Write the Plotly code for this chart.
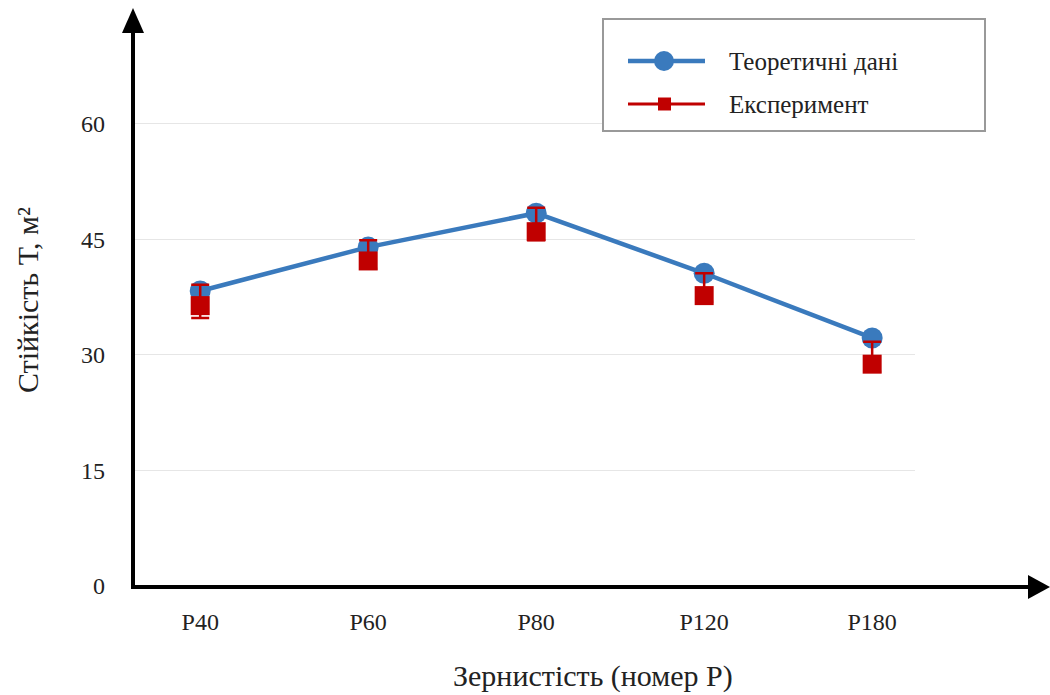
import plotly.graph_objects as go

categories = ["P40", "P60", "P80", "P120", "P180"]
theory = [38.3, 44.0, 48.4, 40.6, 32.2]
experiment = [36.4, 42.2, 46.0, 37.7, 28.8]
err_plus = [2.7, 2.7, 3.1, 2.9, 2.9]
err_minus = [1.6, 1.0, 1.1, 0.8, 1.0]
y_ticks = [0, 15, 30, 45, 60]
series_names = ["Теоретичні дані", "Експеримент"]

BLUE = "#3a7abd"
RED = "#c00000"
FONT = "Liberation Serif"
TXT = "#222222"

W, H = 1050, 695
L, R, T, B = 133, 915, 16, 586  # plot area in pixels


def px(x):
    return (x - L) / (R - L)


def py(y):
    return (B - y) / (B - T)


fig = go.Figure()
fig.add_trace(go.Scatter(
    x=categories, y=theory, mode="lines+markers", name=series_names[0],
    line=dict(color=BLUE, width=4.5),
    marker=dict(symbol="circle", size=21, color=BLUE),
    showlegend=False,
))
fig.add_trace(go.Scatter(
    x=categories, y=experiment, mode="markers", name=series_names[1],
    marker=dict(symbol="square", size=19, color=RED),
    error_y=dict(type="data", symmetric=False, array=err_plus, arrayminus=err_minus,
                 color=RED, thickness=2.5, width=9),
    showlegend=False,
))

shapes = []
# axes with arrows
shapes.append(dict(type="line", xref="paper", yref="paper", x0=px(133), x1=px(133), y0=py(589), y1=py(28),
                   line=dict(color="black", width=4)))
shapes.append(dict(type="path", xref="paper", yref="paper",
                   path=f"M{px(133)},{py(8)} L{px(122)},{py(33)} L{px(144)},{py(33)} Z",
                   fillcolor="black", line=dict(color="black", width=0)))
shapes.append(dict(type="line", xref="paper", yref="paper", x0=px(131), x1=px(1032), y0=py(587), y1=py(587),
                   line=dict(color="black", width=4)))
shapes.append(dict(type="path", xref="paper", yref="paper",
                   path=f"M{px(1050)},{py(587)} L{px(1028)},{py(575)} L{px(1028)},{py(599)} Z",
                   fillcolor="black", line=dict(color="black", width=0)))
# legend box
shapes.append(dict(type="rect", xref="paper", yref="paper", x0=px(603), x1=px(985), y0=py(19), y1=py(131),
                   line=dict(color="#999999", width=2), fillcolor="white"))
shapes.append(dict(type="line", xref="paper", yref="paper", x0=px(628), x1=px(705), y0=py(61), y1=py(61),
                   line=dict(color=BLUE, width=4.5)))
shapes.append(dict(type="circle", xref="paper", yref="paper", x0=px(654), x1=px(674), y0=py(51), y1=py(71),
                   fillcolor=BLUE, line=dict(color=BLUE, width=0)))
shapes.append(dict(type="line", xref="paper", yref="paper", x0=px(628), x1=px(705), y0=py(104), y1=py(104),
                   line=dict(color=RED, width=3)))
shapes.append(dict(type="rect", xref="paper", yref="paper", x0=px(658), x1=px(671), y0=py(97.5), y1=py(110.5),
                   fillcolor=RED, line=dict(color=RED, width=0)))

annotations = [
    dict(text=series_names[0], xref="paper", yref="paper", x=px(727), y=py(61), xanchor="left",
         yanchor="middle", showarrow=False, font=dict(family=FONT, size=25, color=TXT)),
    dict(text=series_names[1], xref="paper", yref="paper", x=px(727), y=py(104), xanchor="left",
         yanchor="middle", showarrow=False, font=dict(family=FONT, size=25, color=TXT)),
    dict(text="Зернистість (номер Р)", xref="paper", yref="paper", x=px(593), y=py(676),
         xanchor="center", yanchor="middle", showarrow=False, font=dict(family=FONT, size=30, color=TXT)),
    dict(text="Стійкість Т, м²", xref="paper", yref="paper", x=px(27), y=py(300), textangle=-90,
         xanchor="center", yanchor="middle", showarrow=False, font=dict(family=FONT, size=30, color=TXT)),
]

fig.update_layout(
    width=W, height=H,
    margin=dict(l=L, r=W - R, t=T, b=H - B),
    plot_bgcolor="white", paper_bgcolor="white",
    showlegend=False,
    shapes=shapes, annotations=annotations,
    font=dict(family=FONT, color=TXT),
)
fig.update_xaxes(
    type="category", range=[-0.4, 4.255], showgrid=False, zeroline=False, showline=False,
    ticks="", tickfont=dict(family=FONT, size=24, color=TXT), ticklabelstandoff=19,
)
fig.update_yaxes(
    range=[0, 74], tickvals=y_ticks, ticktext=[str(v) for v in y_ticks],
    showgrid=True, gridcolor="#e6e6e6", gridwidth=1, zeroline=False, showline=False,
    ticks="", tickfont=dict(family=FONT, size=24, color=TXT), ticklabelstandoff=27,
)

fig.write_html("out.html")
